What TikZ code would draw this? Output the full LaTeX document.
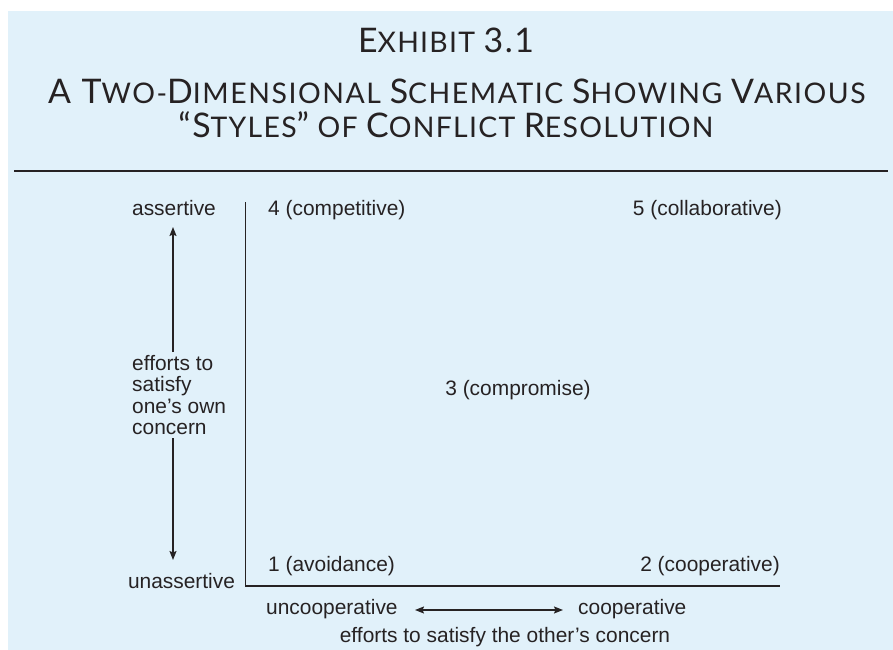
\documentclass[tikz,border=0pt]{standalone}
\usepackage{fontspec}
\setmainfont{Liberation Sans}
\newfontfamily\titlefont[LetterSpace=4.5]{Lato}
\usetikzlibrary{arrows.meta}
\definecolor{bgblue}{RGB}{225,241,250}
\definecolor{ink}{RGB}{38,34,35}
\newcommand\BigL[1]{{\fontsize{34}{34}\selectfont #1}}
\newcommand\SmL[1]{{\fontsize{28.5}{28.5}\selectfont #1}}
\tikzset{
  lbl/.style={inner sep=0pt, text=ink, font=\fontsize{21}{21.5}\selectfont},
  ttl/.style={inner sep=0pt, text=ink, font=\titlefont\fontsize{28.5}{28.5}\selectfont},
  axis/.style={draw=ink, line width=1.3bp},
  arr/.style={draw=ink, line width=1.3bp, -{Stealth[length=9bp,width=7bp,inset=1.5bp]}},
  darr/.style={draw=ink, line width=1.3bp, {Stealth[length=9bp,width=7bp,inset=1.5bp]}-{Stealth[length=9bp,width=7bp,inset=1.5bp]}}
}
\begin{document}
\begin{tikzpicture}[x=1bp,y=-1bp]
\useasboundingbox (0,0) rectangle (893,650);
\fill[bgblue] (8,11) rectangle (893,650);
% title
\node[ttl, anchor=base] (t1) at (446,53) {\BigL{E}\SmL{XHIBIT} \BigL{3.1}};
\node[ttl, anchor=base] (t2) at (457,104) {\addfontfeature{LetterSpace=5.5}\BigL{A T}\SmL{WO-}\BigL{D}\SmL{IMENSIONAL} \BigL{S}\SmL{CHEMATIC} \BigL{S}\SmL{HOWING} \BigL{V}\SmL{ARIOUS}};
\node[ttl, anchor=base] (t3) at (446,138) {\BigL{“S}\SmL{TYLES}\BigL{”} \SmL{OF} \BigL{C}\SmL{ONFLICT} \BigL{R}\SmL{ESOLUTION}};
\coordinate (rl) at (14,171);
\coordinate (rr) at (888,171);
\draw[draw=ink, line width=1.2bp] (rl) -- (rr);
% axes
\coordinate (ytop) at (245.5,202);
\coordinate (orig) at (245.5,586);
\coordinate (xend) at (780,586);
\draw[axis] (ytop) -- (orig) -- (xend);
% labels
\node[lbl, anchor=base] (assert) at (174,215) {assertive};
\node[lbl, anchor=base] (unassert) at (181.5,588) {unassertive};
\node[lbl, anchor=base west] (c4) at (268,215) {4 (competitive)};
\node[lbl, anchor=base east] (c5) at (782,215) {5 (collaborative)};
\node[lbl, anchor=base] (c3) at (518,395) {3 (compromise)};
\node[lbl, anchor=base west] (c1) at (268,571) {1 (avoidance)};
\node[lbl, anchor=base east] (c2) at (780,571) {2 (cooperative)};
\node[lbl, anchor=north west, align=left] (eff) at (132,355) {efforts to\\satisfy\\one’s own\\concern};
\node[lbl, anchor=base west] (uncoop) at (266,614) {uncooperative};
\node[lbl, anchor=base west] (coop) at (578,614) {cooperative};
\node[lbl, anchor=base] (other) at (505,642) {efforts to satisfy the other’s concern};
% arrows
\coordinate (vu1) at (173,352);
\coordinate (vu2) at (173,227);
\coordinate (vd1) at (173,438);
\coordinate (vd2) at (173,560);
\draw[arr] (vu1) -- (vu2);
\draw[arr] (vd1) -- (vd2);
\coordinate (hl) at (415,610);
\coordinate (hr) at (563,610);
\draw[darr] (hl) -- (hr);
\end{tikzpicture}
\end{document}
